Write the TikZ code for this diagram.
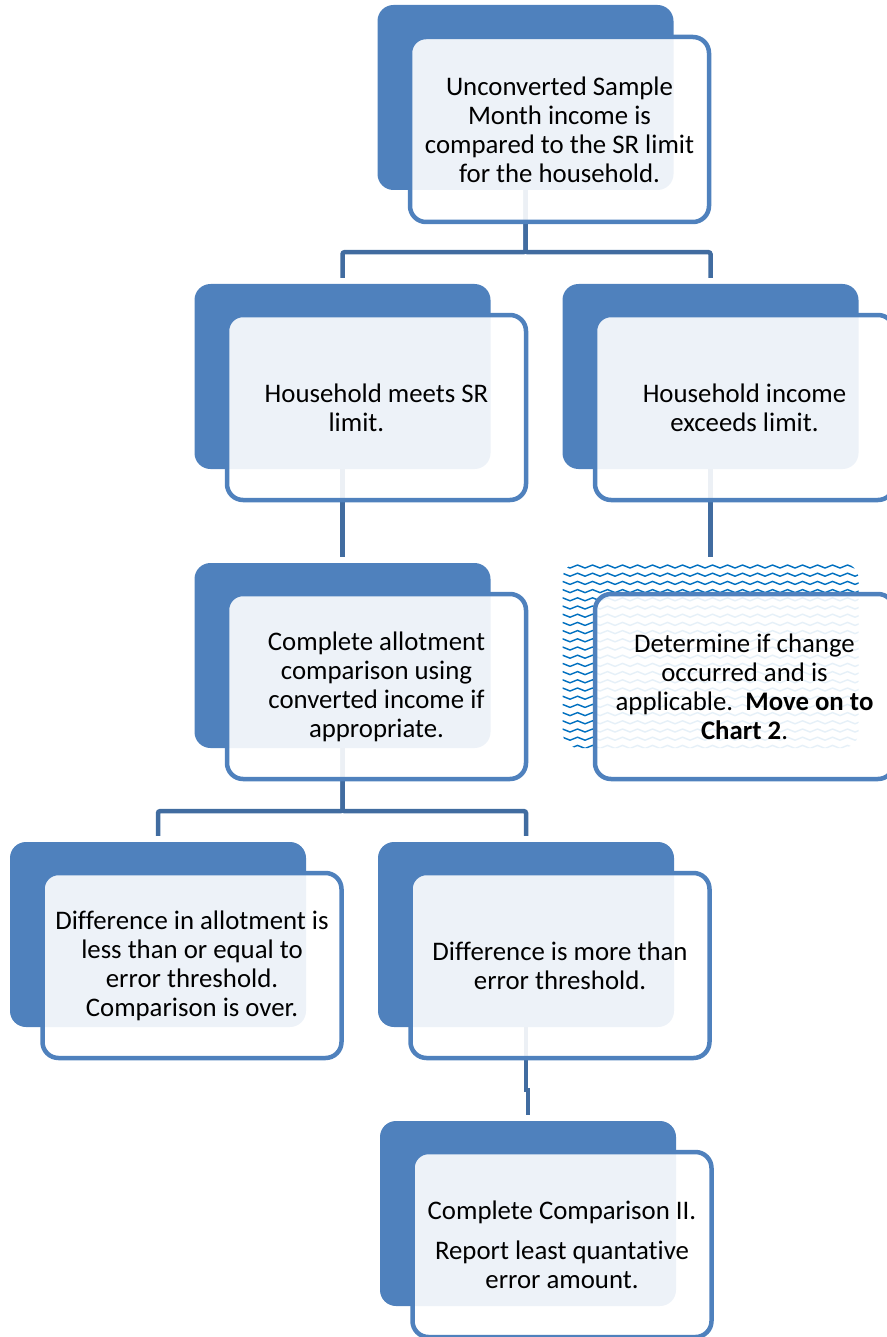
\documentclass[tikz,border=0pt]{standalone}
\usepackage{fontspec}
\setmainfont{Carlito}[Ligatures=NoCommon]
\usepackage{tikz}
\usepackage{xcolor}
\definecolor{chartblue}{RGB}{79,129,189}
\definecolor{chartline}{RGB}{65,108,160}
\definecolor{chartwave}{RGB}{0,112,192}
\tikzstyle{backbox} = [rectangle, rounded corners=16pt, minimum width=296pt, minimum height=185pt, inner sep=0pt, fill=chartblue]
\tikzstyle{frontbox} = [rectangle, rounded corners=16pt, minimum width=299pt, minimum height=185pt, inner sep=0pt, draw=chartblue, line width=4.5pt, fill=white, fill opacity=0.9, text opacity=1, align=center, font=\fontsize{26.8}{29}\selectfont]
\tikzstyle{wave} = [chartwave, line width=1.4pt, sharp corners]
\tikzstyle{wavebox} = [backbox, fill=white, path picture={\foreach \k in {0,...,22} \draw[wave] ([yshift=-2pt-\k*8.2pt]path picture bounding box.north west) \foreach \i in {1,...,20} {-- ++(7.5,3) -- ++(7.5,-3)};}]
\tikzstyle{link} = [line width=4.5pt, color=chartline, rounded corners=2pt, shorten >=6pt]

\begin{document}
\begin{tikzpicture}[x=1pt, y=-1pt]
\useasboundingbox (0,0) rectangle (886,1337);

% Back boxes
\node[backbox] (sampleback) at (525.5,97.5) {};
\node[backbox] (meetsback) at (342.5,376.5) {};
\node[backbox] (exceedsback) at (710.5,376.5) {};
\node[backbox] (allotback) at (342.5,655.5) {};
\node[wavebox] (changeback) at (710.5,655.5) {};
\node[backbox] (lessback) at (158,934.5) {};
\node[backbox] (moreback) at (526,934.5) {};
\node[backbox] (reportback) at (528,1213.5) {};

% Connectors
\draw[link] (sampleback.south) -- ++(0,62) -| (meetsback.north);
\draw[link] (sampleback.south) -- ++(0,62) -| (exceedsback.north);
\draw[link] (meetsback.south) -- (allotback.north);
\draw[link] (exceedsback.south) -- (changeback.north);
\draw[link] (allotback.south) -- ++(0,63) -| (lessback.north);
\draw[link] (allotback.south) -- ++(0,63) -| (moreback.north);
\draw[link, sharp corners] (moreback.south) -- ++(0,63) -| (reportback.north);

% Front boxes with the texts
\node[frontbox] (sample) at (559.5,129.5) {Unconverted Sample\\Month income is\\compared to the SR limit\\for the household.};
\node[frontbox] (meets) at (376.5,407.5) {Household meets SR\\limit.\hspace*{1.5em}};
\node[frontbox] (exceeds) at (744.5,407.5) {Household income\\exceeds limit.};
\node[frontbox] (allot) at (376.5,686.5) {Complete allotment\\comparison using\\converted income if\\appropriate.};
\node[frontbox] (change) at (744.5,686.5) {Determine if change\\occurred and is\\applicable.\ \ \textbf{Move on to}\\\textbf{Chart 2}.};
\node[frontbox] (less) at (192,965.5) {Difference in allotment is\\less than or equal to\\error threshold.\\Comparison is over.};
\node[frontbox] (more) at (560,965.5) {Difference is more than\\error threshold.};
\node[frontbox] (report) at (562,1244.5) {Complete Comparison II.\\[11pt]Report least quantative\\error amount.};
\end{tikzpicture}
\end{document}
